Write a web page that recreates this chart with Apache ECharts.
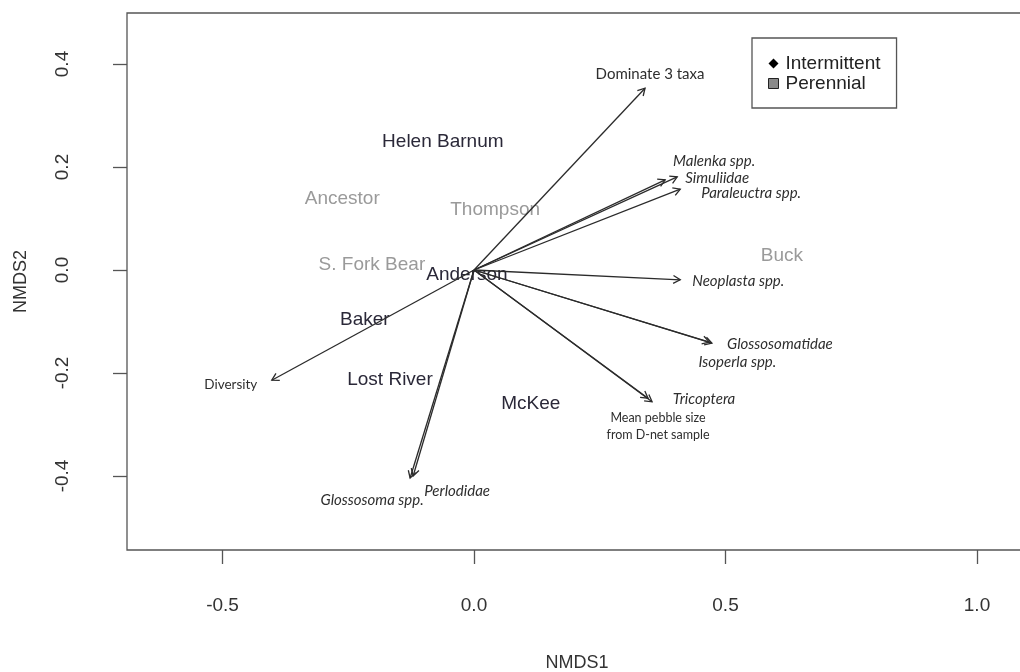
<!DOCTYPE html>
<html>
<head>
<meta charset="utf-8">
<title>NMDS ordination</title>
<script src="https://cdn.jsdelivr.net/npm/echarts@6/dist/echarts.min.js"></script>
<style>
  html, body { margin: 0; padding: 0; background: #fff; }
  #chart { width: 1020px; height: 672px; }
</style>
</head>
<body>
<div id="chart"></div>
<script>
// Axis tick values
const xTicks = [-0.5, 0.0, 0.5, 1.0];
const yTicks = [-0.4, -0.2, 0.0, 0.2, 0.4];

// Site scores (NMDS1, NMDS2)
const intermittentSites = ['Helen Barnum', 'Anderson', 'Baker', 'Lost River', 'McKee'];
const intermittentNMDS1 = [-0.062, -0.014, -0.217, -0.167, 0.113];
const intermittentNMDS2 = [0.249, -0.010, -0.097, -0.214, -0.260];

const perennialSites = ['Ancestor', 'Thompson', 'S. Fork Bear', 'Buck'];
const perennialNMDS1 = [-0.262, 0.042, -0.203, 0.612];
const perennialNMDS2 = [0.139, 0.117, 0.010, 0.027];

// Fitted environmental / taxa vectors (arrow tips)
const vectorNames = ['Dominate 3 taxa', 'Malenka spp.', 'Simuliidae', 'Paraleuctra spp.',
  'Neoplasta spp.', 'Glossosomatidae', 'Isoperla spp.', 'Tricoptera',
  'Mean pebble size', 'Diversity', 'Glossosoma spp.', 'Perlodidae'];
const vectorNMDS1 = [0.340, 0.380, 0.404, 0.410, 0.410, 0.473, 0.468, 0.354, 0.346, -0.402, -0.127, -0.121];
const vectorNMDS2 = [0.353, 0.175, 0.181, 0.157, -0.019, -0.142, -0.140, -0.256, -0.249, -0.214, -0.404, -0.400];

// Label placement (pixel offsets from each arrow tip) and text style
const vectorLabelStyle = {
  'Dominate 3 taxa':  { dx: 5,   dy: -14, italic: false, size: 15 },
  'Malenka spp.':     { dx: 49,  dy: -19, italic: true,  size: 15 },
  'Simuliidae':       { dx: 40,  dy: 1,   italic: true,  size: 15 },
  'Paraleuctra spp.': { dx: 71,  dy: 4,   italic: true,  size: 15 },
  'Neoplasta spp.':   { dx: 58,  dy: 1,   italic: true,  size: 15 },
  'Glossosomatidae':  { dx: 68,  dy: 1,   italic: true,  size: 15 },
  'Isoperla spp.':    { dx: 28,  dy: 20,  italic: true,  size: 15 },
  'Tricoptera':       { dx: 52,  dy: -3,  italic: true,  size: 15 },
  'Mean pebble size': { dx: 10,  dy: 28,  italic: false, size: 12.5, text: 'Mean pebble size\nfrom D-net sample', lineHeight: 17 },
  'Diversity':        { dx: -41, dy: 4,   italic: false, size: 13.5 },
  'Glossosoma spp.':  { dx: -38, dy: 22,  italic: true,  size: 15 },
  'Perlodidae':       { dx: 44,  dy: 15,  italic: true,  size: 15 }
};

const MAIN_FONT = '"Liberation Sans", Arial, sans-serif';
const SMALL_FONT = 'Lato, "Open Sans", sans-serif';
const LINE_COLOR = '#2b2b2b';

function siteRenderer(names, color) {
  return function (params, api) {
    const p = api.coord([api.value(0), api.value(1)]);
    return {
      type: 'text', x: p[0], y: p[1],
      style: {
        text: names[params.dataIndex], fill: color,
        font: '19px ' + MAIN_FONT, align: 'center', verticalAlign: 'middle'
      }
    };
  };
}

function arrowRenderer(params, api) {
  const o = api.coord([0, 0]);
  const t = api.coord([api.value(0), api.value(1)]);
  const ang = Math.atan2(t[1] - o[1], t[0] - o[0]);
  const L = 8, a = Math.PI / 6;
  const h1 = [t[0] - L * Math.cos(ang - a), t[1] - L * Math.sin(ang - a)];
  const h2 = [t[0] - L * Math.cos(ang + a), t[1] - L * Math.sin(ang + a)];
  const name = vectorNames[params.dataIndex];
  const s = vectorLabelStyle[name];
  return {
    type: 'group',
    children: [
      { type: 'line', shape: { x1: o[0], y1: o[1], x2: t[0], y2: t[1] },
        style: { stroke: LINE_COLOR, lineWidth: 1.3 } },
      { type: 'polyline', shape: { points: [h1, t, h2] },
        style: { stroke: LINE_COLOR, lineWidth: 1.3, fill: null } },
      { type: 'text', x: t[0] + s.dx, y: t[1] + s.dy,
        style: {
          text: s.text || name, fill: '#2e2e2e',
          fontStyle: s.italic ? 'italic' : 'normal',
          fontSize: s.size, fontFamily: SMALL_FONT,
          lineHeight: s.lineHeight || s.size * 1.2,
          align: 'center', verticalAlign: 'middle'
        } }
    ]
  };
}

const chart = echarts.init(document.getElementById('chart'), null, { renderer: 'canvas' });

const axisText = { color: '#333', fontSize: 19, fontFamily: MAIN_FONT };

chart.setOption({
  animation: false,
  backgroundColor: '#fff',
  grid: {
    left: 127, top: 13, width: 900, height: 537,
    outerBoundsMode: 'none', containLabel: false,
    show: true, borderColor: '#555', borderWidth: 1.3, backgroundColor: 'transparent'
  },
  legend: {
    left: 752, top: 38, orient: 'vertical',
    selectedMode: false,
    borderColor: '#555', borderWidth: 1.3,
    padding: [16, 16, 15, 16],
    itemWidth: 10, itemHeight: 10, itemGap: 1,
    textStyle: { color: '#222', fontSize: 19, fontFamily: MAIN_FONT, padding: [0, 0, 0, 2] },
    data: [
      { name: 'Intermittent', icon: 'diamond', itemStyle: { color: '#000' } },
      { name: 'Perennial', icon: 'rect', itemStyle: { color: '#8a8a8a', borderColor: '#222', borderWidth: 1 } }
    ]
  },
  xAxis: {
    type: 'value',
    min: -347 / 503, max: -347 / 503 + 900 / 503,
    name: 'NMDS1', nameLocation: 'middle', nameGap: 104,
    nameTextStyle: { color: '#333', fontSize: 18, fontFamily: MAIN_FONT },
    axisLine: { show: false, onZero: false },
    splitLine: { show: false },
    axisTick: { show: true, inside: false, length: 14, customValues: xTicks,
      lineStyle: { color: '#555', width: 1.3 } },
    axisLabel: { customValues: xTicks, margin: 46, formatter: v => Number(v).toFixed(1), ...axisText }
  },
  yAxis: {
    type: 'value',
    min: -280 / 515, max: 257 / 515,
    name: 'NMDS2', nameLocation: 'middle', nameGap: 97,
    nameTextStyle: { color: '#333', fontSize: 18, fontFamily: MAIN_FONT },
    axisLine: { show: false, onZero: false },
    splitLine: { show: false },
    axisTick: { show: true, inside: false, length: 14, customValues: yTicks,
      lineStyle: { color: '#555', width: 1.3 } },
    axisLabel: { customValues: yTicks, margin: 55, rotate: 90,
      formatter: v => Number(v).toFixed(1), ...axisText }
  },
  series: [
    {
      name: 'Perennial', type: 'custom', coordinateSystem: 'cartesian2d',
      itemStyle: { color: '#8a8a8a' },
      renderItem: siteRenderer(perennialSites, '#9a9a9a'),
      data: perennialNMDS1.map((x, i) => [x, perennialNMDS2[i]]),
      z: 2
    },
    {
      name: 'Intermittent', type: 'custom', coordinateSystem: 'cartesian2d',
      itemStyle: { color: '#000' },
      renderItem: siteRenderer(intermittentSites, '#2a2838'),
      data: intermittentNMDS1.map((x, i) => [x, intermittentNMDS2[i]]),
      z: 3
    },
    {
      name: 'Vectors', type: 'custom', coordinateSystem: 'cartesian2d',
      renderItem: arrowRenderer,
      data: vectorNMDS1.map((x, i) => [x, vectorNMDS2[i]]),
      z: 4
    }
  ]
});
</script>
</body>
</html>
